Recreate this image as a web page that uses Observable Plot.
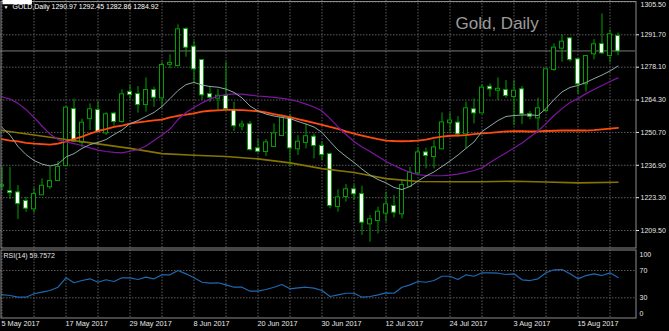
<!DOCTYPE html>
<html><head><meta charset="utf-8">
<script src="https://cdn.jsdelivr.net/npm/d3@7"></script>
<script src="https://cdn.jsdelivr.net/npm/@observablehq/plot@0.6"></script>
<style>
html,body{margin:0;padding:0;background:#000;}
#chart{position:relative;width:669px;height:331px;background:#000;overflow:hidden;}
#chart svg{position:absolute;left:0;display:block;}
</style></head><body><div id="chart"></div>
<script>
// ---- data ----
const opens  = [1228.2,1225.8,1225.3,1221.7,1218.6,1224.5,1227.9,1230.5,1236.8,1260.3,1246.6,1256.5,1259.9,1250.5,1258.4,1255.3,1267.5,1266.6,1262.4,1268.3,1265.2,1279.3,1278.8,1293.9,1286.5,1280.9,1266.6,1265.1,1265.9,1259.9,1253.4,1253.9,1243.8,1242.7,1244.8,1249.4,1256.7,1243.8,1246.5,1248.7,1244.8,1241.4,1219.6,1223.8,1226.6,1224.6,1212.3,1213.7,1216.8,1219.6,1216.5,1228.1,1233.7,1242.1,1240.6,1243.8,1254.8,1254.6,1250.1,1260.2,1258.9,1269.7,1268.4,1268.3,1265.8,1268.6,1258.2,1256.8,1259.9,1277.1,1286.1,1290.0,1281.2,1271.1,1283.7,1287.6,1283.0,1290.97];
const highs  = [1236.1,1236.0,1228.4,1223.5,1227.3,1231.2,1236.1,1238.5,1261.5,1264.7,1256.3,1262.7,1263.7,1259.0,1259.2,1268.6,1270.4,1270.0,1273.6,1269.7,1280.2,1283.3,1295.9,1294.6,1289.0,1281.0,1270.0,1268.7,1280.2,1263.4,1255.5,1255.3,1247.7,1247.7,1254.3,1258.1,1258.2,1249.4,1254.3,1250.1,1246.6,1242.0,1226.6,1228.8,1228.7,1228.1,1215.8,1219.3,1225.6,1224.2,1230.8,1236.1,1244.2,1244.1,1247.3,1258.9,1258.9,1257.4,1263.4,1264.8,1270.7,1271.1,1273.6,1272.5,1272.5,1270.0,1259.5,1265.1,1277.3,1287.9,1291.7,1290.3,1281.4,1283.0,1289.7,1300.5,1293.8,1292.45];
const lows   = [1226.3,1222.5,1214.1,1217.2,1216.8,1224.2,1226.7,1230.2,1236.3,1246.6,1244.5,1251.5,1250.8,1249.4,1253.3,1254.6,1264.4,1258.8,1259.2,1261.3,1261.0,1277.4,1278.5,1282.3,1271.4,1264.1,1263.3,1259.9,1259.9,1251.1,1251.3,1242.8,1242.0,1240.6,1244.5,1249.2,1236.1,1241.0,1243.8,1239.6,1238.9,1218.6,1217.2,1221.4,1222.1,1207.4,1204.6,1208.1,1213.0,1214.8,1214.4,1227.7,1233.0,1235.4,1235.4,1243.5,1250.8,1248.7,1243.8,1254.3,1258.5,1265.5,1264.1,1265.0,1253.6,1254.0,1256.0,1251.5,1259.2,1276.4,1280.2,1280.2,1266.6,1267.6,1281.2,1283.4,1279.9,1282.86];
const closes = [1228.3,1225.4,1220.8,1218.9,1224.6,1228.1,1230.1,1236.0,1260.9,1247.0,1254.6,1260.2,1251.1,1258.1,1255.3,1266.5,1266.6,1262.4,1268.3,1265.5,1278.8,1279.7,1293.8,1286.5,1277.4,1266.5,1265.5,1265.9,1260.7,1253.5,1253.8,1243.5,1242.8,1246.3,1250.1,1256.7,1244.2,1246.6,1248.9,1245.2,1241.4,1220.0,1223.2,1226.6,1224.9,1213.0,1214.0,1217.2,1220.3,1217.2,1228.4,1233.6,1242.1,1241.0,1244.2,1254.7,1255.5,1250.1,1260.6,1258.9,1269.3,1269.0,1268.8,1266.2,1268.0,1258.5,1257.5,1260.6,1277.0,1286.1,1288.6,1281.3,1271.1,1282.6,1287.5,1284.1,1291.7,1284.92];

// moving averages (one value per bar)
const maFast   = [1252.8,1249.6,1244.8,1241.4,1238.9,1237.4,1236.6,1237.4,1240.4,1241.8,1244.0,1245.6,1246.5,1247.7,1249.8,1251.7,1254.4,1255.7,1257.4,1259.1,1261.6,1264.9,1268.3,1270.8,1271.7,1270.6,1270.0,1269.7,1268.9,1267.5,1265.2,1261.8,1259.7,1258.4,1257.6,1257.0,1256.5,1255.3,1254.2,1253.0,1250.7,1246.9,1243.3,1240.6,1238.1,1235.3,1232.8,1230.9,1229.5,1227.6,1226.7,1228.0,1230.3,1232.4,1234.1,1236.4,1238.7,1241.2,1244.0,1246.7,1251.1,1253.4,1255.7,1257.4,1257.8,1258.0,1258.1,1257.8,1260.7,1264.5,1267.7,1269.6,1270.4,1271.7,1273.3,1274.8,1276.5,1278.6];
const maPurple = [1265.7,1264.7,1262.9,1260.3,1257.0,1253.4,1250.0,1247.7,1246.7,1246.0,1245.2,1244.2,1243.3,1242.7,1242.3,1242.1,1242.8,1243.5,1245.0,1247.3,1249.6,1252.1,1256.1,1259.1,1261.2,1263.1,1264.7,1266.0,1266.6,1266.9,1266.8,1266.4,1266.0,1265.7,1265.4,1265.0,1264.5,1263.7,1262.6,1261.4,1259.7,1256.5,1253.0,1249.8,1246.9,1244.6,1242.7,1240.6,1238.5,1236.8,1235.3,1233.9,1233.0,1232.6,1232.5,1232.5,1232.8,1233.2,1233.9,1234.7,1235.8,1238.1,1240.2,1242.1,1244.2,1246.3,1248.8,1251.3,1254.4,1257.8,1260.7,1263.3,1264.9,1267.0,1268.7,1270.4,1272.1,1273.6];
const maOrange = [1247.9,1247.3,1246.9,1246.3,1246.0,1245.8,1245.6,1246.0,1246.9,1247.9,1248.9,1250.2,1251.3,1252.1,1253.0,1253.6,1254.4,1254.9,1255.3,1255.8,1256.1,1257.0,1257.7,1258.2,1258.7,1259.4,1259.8,1260.0,1260.2,1260.2,1260.1,1259.9,1259.6,1259.1,1258.4,1257.8,1257.1,1256.3,1255.5,1254.7,1253.9,1253.0,1252.2,1251.1,1250.2,1249.4,1248.6,1247.9,1247.3,1247.1,1247.0,1247.1,1247.3,1247.7,1248.4,1248.9,1249.3,1249.4,1249.6,1250.0,1250.3,1250.5,1250.8,1251.1,1251.2,1251.2,1251.1,1251.1,1251.3,1251.4,1251.5,1251.5,1251.5,1251.5,1251.7,1252.0,1252.3,1252.6];
// slow average, read at sampled bars
const maSlowBar = [0,4,8,12,16,20,24,28,32,36,40,44,48,52,56,60,64,68,72,77];
const maSlow    = [1251.5,1249.6,1247.7,1245.9,1244.0,1241.8,1241.1,1240.6,1239.6,1237.9,1235.5,1233.9,1231.3,1230.1,1230.0,1230.0,1230.2,1229.9,1229.5,1229.8];

const rsi = [34.8,33.4,30.9,30.9,35.9,38.2,40.7,45.5,59.3,52.0,55.3,57.8,52.8,56.4,53.9,59.3,59.3,56.8,60.2,57.8,63.7,63.7,70.0,65.1,59.3,52.8,51.4,52.0,49.0,45.5,45.5,39.7,39.7,42.2,45.5,49.5,43.2,44.6,45.5,44.1,40.7,31.9,34.4,36.7,36.7,30.9,31.9,34.4,37.3,36.7,45.5,49.0,53.9,52.8,55.3,61.6,61.6,56.8,63.7,61.6,66.6,66.6,66.0,64.1,65.1,56.4,55.3,57.8,66.6,71.0,71.4,65.1,57.8,62.6,65.1,62.6,66.6,59.7572];

const dateTickBars = [0,8,16,24,32,40,48,56,64,72];
const dateLabels   = ["5 May 2017","17 May 2017","29 May 2017","8 Jun 2017","20 Jun 2017","30 Jun 2017","12 Jul 2017","24 Jul 2017","3 Aug 2017","15 Aug 2017"];
const priceTicks = [1305.50,1291.70,1278.10,1264.30,1250.70,1236.90,1223.30,1209.50];
const rsiGrid = [70,30];
const gridBars = d3.range(0, 78, 4);

// ---- build ----
const bars = opens.map((o,i)=>({i, o, h: highs[i], l: lows[i], c: closes[i]}));
const slow = maSlowBar.map((b,k)=>({i:b, v: maSlow[k]}));
const lastClose = closes[closes.length-1];
const topTick = priceTicks[0];
const innerTicks = priceTicks.slice(1);

const W = 669;
const xOpt = {domain:[-0.1875, 79.1875]};
const font = "'Liberation Sans', Arial, sans-serif";
const gridColor = "#5c5c5c";
const dash = "1.5,1.5";
const green = "#00a000";
const frameColor = "#8c8c8c";
const txt = "#e6e6e6";
const styleObj = {background:"transparent", color: txt, fontFamily: font, fontSize:"7px", overflow:"visible"};

const main = Plot.plot({
  width: W, height: 249,
  marginLeft: 0, marginRight: 34, marginTop: 0, marginBottom: 1,
  x: {...xOpt, axis: null},
  y: {domain:[1201.95, 1306.11], axis: null},
  style: styleObj,
  marks: [
    Plot.ruleY(priceTicks, {stroke: gridColor, strokeDasharray: dash}),
    Plot.ruleX(gridBars, {stroke: gridColor, strokeDasharray: dash}),
    Plot.ruleY([lastClose], {stroke: "#7a7a7a"}),
    Plot.ruleX(bars, {x:"i", y1:"l", y2:"h", stroke: green}),
    Plot.rect(bars, {x1: d=>d.i-0.25, x2: d=>d.i+0.25, y1:"o", y2:"c",
      fill: d=> d.c >= d.o ? "#000" : "#fff", stroke: green, strokeWidth: 1,
      insetTop: -0.5, insetBottom: -0.5}),
    Plot.line(slow, {x:"i", y:"v", stroke:"#857500", strokeWidth: 1.6}),
    Plot.line(maOrange, {x:(d,i)=>i, y:d=>d, stroke:"#ff4a10", strokeWidth: 1.8}),
    Plot.line(maPurple, {x:(d,i)=>i, y:d=>d, stroke:"#7d16a0", strokeWidth: 1.2}),
    Plot.line(maFast, {x:(d,i)=>i, y:d=>d, stroke:"#8fa8a8", strokeWidth: 1}),
    Plot.frame({stroke: frameColor, insetTop: 1, insetLeft: 0.5, insetRight: -0.5, insetBottom: 0.5}),
    Plot.axisY(innerTicks, {anchor:"right", tickSize: 3, tickPadding: 2, tickFormat: d=>d.toFixed(2), color: txt, fontSize: 7}),
    Plot.text([topTick], {y: d=>d, frameAnchor:"right", dx: 5, dy: 2.5, textAnchor:"start", text: d=>d.toFixed(2), fill: txt, fontSize: 7}),
    Plot.text([lastClose], {y: d=>d, frameAnchor:"right", dx: 4, textAnchor:"start", text: d=>d.toFixed(2), fill:"#010101", fontSize: 7}),
    Plot.text(["▼"], {frameAnchor:"top-left", dx: 3, dy: 4.5, fill:"#fff", fontSize: 5}),
    Plot.text(["GOLD,Daily"], {frameAnchor:"top-left", dx: 12, dy: 4, fill:"#fff", fontSize: 7}),
    Plot.text([[opens,highs,lows,closes].map(a=>a[a.length-1].toFixed(2)).join(" ")], {frameAnchor:"top-left", dx: 51, dy: 4, fill:"#fff", fontSize: 7}),
    Plot.text(["Gold, Daily"], {frameAnchor:"top-left", dx: 455, dy: 16, fill:"#9c9c9c", fontSize: 17})
  ]
});
main.style.top = "0px";

const rsiPlot = Plot.plot({
  width: W, height: 82,
  marginLeft: 0, marginRight: 34, marginTop: 0.5, marginBottom: 13.2,
  x: {...xOpt, axis: null},
  y: {domain:[0,100], axis: null},
  style: styleObj,
  marks: [
    Plot.ruleX(gridBars, {stroke: gridColor, strokeDasharray: dash}),
    Plot.ruleY(rsiGrid, {stroke: gridColor, strokeDasharray: dash}),
    Plot.line(rsi, {x:(d,i)=>i, y:d=>d, stroke:"#2068b0", strokeWidth: 1.2}),
    Plot.frame({stroke: frameColor, insetLeft: 0.5, insetRight: -0.5, insetBottom: 0.3}),
    Plot.text(rsiGrid, {y:d=>d, frameAnchor:"right", dx: 4, textAnchor:"start", fill: txt, fontSize: 7}),
    Plot.text([100], {y:d=>d, frameAnchor:"right", dx: 4, dy: 4.5, textAnchor:"start", fill: txt, fontSize: 7}),
    Plot.text([0], {y:d=>d, frameAnchor:"right", dx: 4, dy: -5, textAnchor:"start", fill: txt, fontSize: 7}),
    Plot.text(["RSI(14) " + rsi[rsi.length-1].toFixed(4)], {frameAnchor:"top-left", dx: 3, dy: 3, fill: txt, fontSize: 7}),
    Plot.text(dateTickBars, {x:d=>d, frameAnchor:"bottom", textAnchor:"start", lineAnchor:"top", dx: -0.5, dy: 2.5, text:(d,k)=>dateLabels[k], fill: txt, fontSize: 7.3})
  ]
});
rsiPlot.style.top = "249px";

const holder = document.getElementById("chart");
holder.appendChild(main);
holder.appendChild(rsiPlot);

// white box behind the current price label
d3.select(main).selectAll('g[fill="#010101"] text').each(function(){
  const b = this.getBBox();
  const r = document.createElementNS("http://www.w3.org/2000/svg","rect");
  r.setAttribute("x", b.x - 2); r.setAttribute("y", b.y - 0.5);
  r.setAttribute("width", b.width + 4); r.setAttribute("height", b.height + 1);
  r.setAttribute("fill", "#fff");
  this.parentNode.insertBefore(r, this);
});
</script></body></html>
